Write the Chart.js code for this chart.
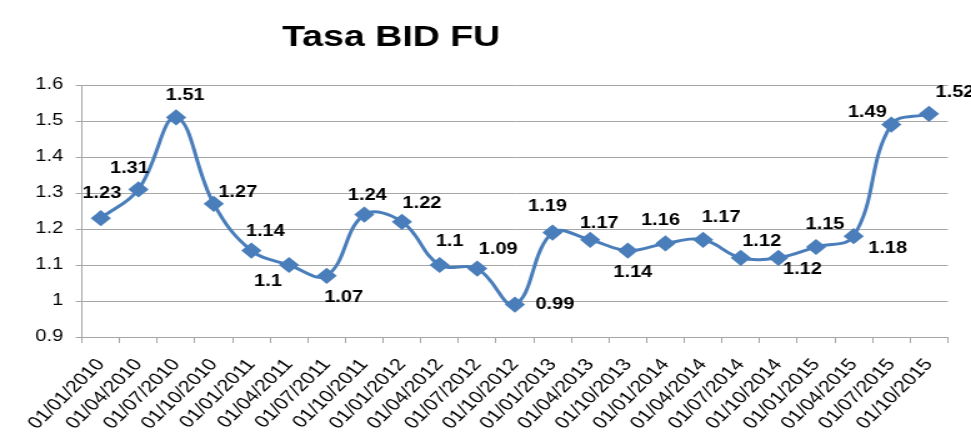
<!DOCTYPE html>
<html>
<head>
<meta charset="utf-8">
<script src="https://cdn.jsdelivr.net/npm/chart.js@4/dist/chart.umd.min.js"></script>
<style>
  html, body { margin: 0; padding: 0; background: #ffffff; overflow: hidden; }
  #frame { position: absolute; left: 9px; top: 8px; width: 1200px; height: 800px;
           border-left: 2px solid #a8a8a8; border-top: 2px solid #a8a8a8; }
  #wrap { position: absolute; left: 0; top: 0; width: 777px; height: 448px;
          transform: scaleX(1.2497); transform-origin: 0 0; }
  canvas { display: block; }
</style>
</head>
<body>
<div id="frame"></div>
<div id="wrap"><canvas id="c" width="777" height="448"></canvas></div>
<script>
const chartTitle = 'Tasa BID FU';
const categories = [
  '01/01/2010', '01/04/2010', '01/07/2010', '01/10/2010',
  '01/01/2011', '01/04/2011', '01/07/2011', '01/10/2011',
  '01/01/2012', '01/04/2012', '01/07/2012', '01/10/2012',
  '01/01/2013', '01/04/2013', '01/10/2013',
  '01/01/2014', '01/04/2014', '01/07/2014', '01/10/2014',
  '01/01/2015', '01/04/2015', '01/07/2015', '01/10/2015'
];
const tasaBidFu = [
  1.23, 1.31, 1.51, 1.27, 1.14, 1.1, 1.07, 1.24, 1.22, 1.1, 1.09, 0.99,
  1.19, 1.17, 1.14, 1.16, 1.17, 1.12, 1.12, 1.15, 1.18, 1.49, 1.52
];
const yTickLabels = ['0.9', '1', '1.1', '1.2', '1.3', '1.4', '1.5', '1.6'];

// label placement offsets (screen px, relative to each point)
const labelOffsets = [
  [1, -25], [-9, -21], [9, -22], [24, -11], [14, -19], [-21, 17], [17, 22],
  [3, -19], [20, -18], [10, -23], [21, -19], [40, 0], [-5, -26], [9, -16],
  [5, 22], [-5, -23], [18, -22], [21, -16], [24, 12], [9, -22], [34, 12],
  [-24, -12], [26, -21]
];

const SX = 971 / 777;
const FONT = '"Liberation Sans", Arial, sans-serif';
const lineColor = 'rgb(74,126,187)';
const gridColor = '#a6a6a6';

const titlePlugin = {
  id: 'titleText',
  afterDraw(chart) {
    const ctx = chart.ctx;
    ctx.save();
    ctx.font = 'bold 30px ' + FONT;
    ctx.fillStyle = '#000000';
    ctx.textAlign = 'center';
    ctx.textBaseline = 'alphabetic';
    ctx.fillText(chartTitle, 313, 46);
    ctx.restore();
  }
};

const valueLabels = {
  id: 'valueLabels',
  afterDatasetsDraw(chart) {
    const ctx = chart.ctx;
    const meta = chart.getDatasetMeta(0);
    ctx.save();
    ctx.font = 'bold 16px ' + FONT;
    ctx.fillStyle = '#000000';
    ctx.textAlign = 'center';
    ctx.textBaseline = 'middle';
    meta.data.forEach((pt, i) => {
      const off = labelOffsets[i] || [0, -20];
      ctx.fillText(String(tasaBidFu[i]), pt.x + off[0] / SX, pt.y + off[1]);
    });
    ctx.restore();
  }
};

const whiteBg = {
  id: 'whiteBg',
  beforeDraw(chart) {
    const ctx = chart.ctx;
    ctx.save();
    ctx.fillStyle = '#ffffff';
    ctx.fillRect(0, 0, chart.width, chart.height);
    ctx.restore();
  }
};

new Chart(document.getElementById('c'), {
  type: 'line',
  data: {
    labels: categories,
    datasets: [{
      label: chartTitle,
      data: tasaBidFu,
      borderColor: lineColor,
      backgroundColor: lineColor,
      borderWidth: 3,
      tension: 0.4,
      pointStyle: 'rectRot',
      pointRadius: 6,
      pointHoverRadius: 6,
      pointBackgroundColor: lineColor,
      pointBorderColor: lineColor,
      fill: false
    }]
  },
  options: {
    responsive: false,
    devicePixelRatio: 1,
    animation: false,
    layout: { padding: { top: 85, right: 18.6, bottom: 0, left: 0 } },
    plugins: {
      legend: { display: false },
      title: { display: false },
      tooltip: { enabled: false }
    },
    scales: {
      x: {
        offset: true,
        afterFit(s) { s.height = 111; },
        grid: {
          offset: true,
          drawOnChartArea: false,
          drawTicks: true,
          tickLength: 6,
          color: gridColor
        },
        border: { display: true, color: gridColor, width: 1 },
        ticks: {
          autoSkip: false,
          minRotation: 50,
          maxRotation: 50,
          padding: 12,
          color: '#000000',
          font: { family: FONT, size: 17 }
        }
      },
      y: {
        min: 0.9,
        max: 1.6,
        afterFit(s) { s.width = 65.6; },
        grid: {
          color: gridColor,
          lineWidth: 1,
          tickLength: 5,
          drawTicks: true
        },
        border: { display: true, color: gridColor, width: 1 },
        ticks: {
          stepSize: 0.1,
          padding: 10,
          color: '#000000',
          font: { family: FONT, size: 16 },
          callback(value, index) { return yTickLabels[index]; }
        }
      }
    }
  },
  plugins: [whiteBg, titlePlugin, valueLabels]
});
</script>
</body>
</html>
